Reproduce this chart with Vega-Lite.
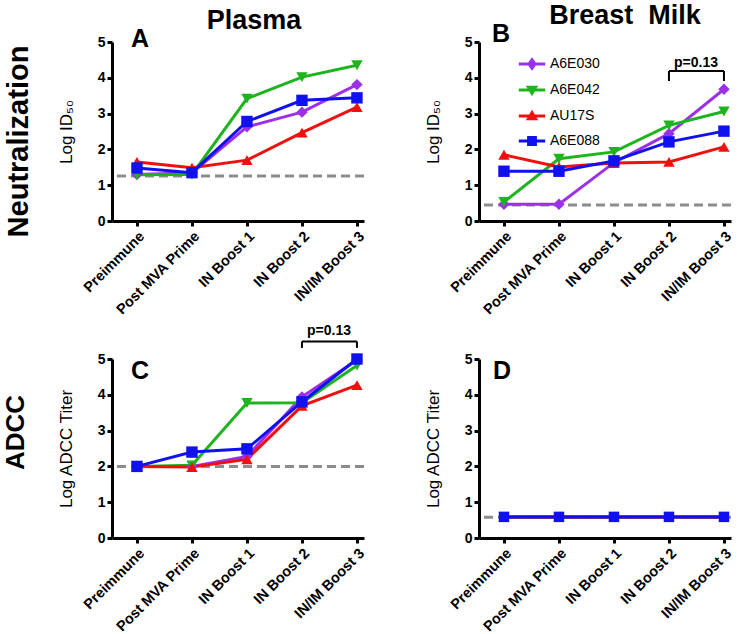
{
  "$schema": "https://vega.github.io/schema/vega-lite/v6.json",
  "background": "white",
  "padding": {"left": 2, "top": 2, "right": 5, "bottom": 5},
  "bounds": "flush",
  "columns": 2,
  "spacing": {"row": 138, "column": 115},
  "config": {
    "font": "Liberation Sans",
    "view": {"stroke": null},
    "axis": {"grid": false, "domainColor": "black", "domainWidth": 3, "tickColor": "black", "tickWidth": 3, "tickSize": 5,
      "labelFont": "Liberation Sans", "labelFontWeight": "bold", "labelFontSize": 14, "labelColor": "black",
      "titleFont": "Liberation Sans", "titleFontWeight": "normal", "titleFontSize": 17, "titleColor": "black"},
    "axisX": {"labelAngle": -45, "labelPadding": 3, "labelFontSize": 14.5},
    "axisY": {"labelPadding": 2, "titlePadding": 22},
    "title": {"font": "Liberation Sans", "fontWeight": "bold", "color": "black"}
  },
  "datasets": {
    "A": [
      {"series": "A6E030", "time": "Preimmune", "value": 1.30},
      {"series": "A6E030", "time": "Post MVA Prime", "value": 1.35},
      {"series": "A6E030", "time": "IN Boost 1", "value": 2.63},
      {"series": "A6E030", "time": "IN Boost 2", "value": 3.04},
      {"series": "A6E030", "time": "IN/IM Boost 3", "value": 3.81},
      {"series": "A6E042", "time": "Preimmune", "value": 1.29},
      {"series": "A6E042", "time": "Post MVA Prime", "value": 1.30},
      {"series": "A6E042", "time": "IN Boost 1", "value": 3.42},
      {"series": "A6E042", "time": "IN Boost 2", "value": 4.02},
      {"series": "A6E042", "time": "IN/IM Boost 3", "value": 4.35},
      {"series": "AU17S", "time": "Preimmune", "value": 1.65},
      {"series": "AU17S", "time": "Post MVA Prime", "value": 1.49},
      {"series": "AU17S", "time": "IN Boost 1", "value": 1.70},
      {"series": "AU17S", "time": "IN Boost 2", "value": 2.47},
      {"series": "AU17S", "time": "IN/IM Boost 3", "value": 3.18},
      {"series": "A6E088", "time": "Preimmune", "value": 1.48},
      {"series": "A6E088", "time": "Post MVA Prime", "value": 1.35},
      {"series": "A6E088", "time": "IN Boost 1", "value": 2.78},
      {"series": "A6E088", "time": "IN Boost 2", "value": 3.37},
      {"series": "A6E088", "time": "IN/IM Boost 3", "value": 3.44}
    ],
    "B": [
      {"series": "A6E030", "time": "Preimmune", "value": 0.47},
      {"series": "A6E030", "time": "Post MVA Prime", "value": 0.47},
      {"series": "A6E030", "time": "IN Boost 1", "value": 1.63},
      {"series": "A6E030", "time": "IN Boost 2", "value": 2.44},
      {"series": "A6E030", "time": "IN/IM Boost 3", "value": 3.68},
      {"series": "A6E042", "time": "Preimmune", "value": 0.53},
      {"series": "A6E042", "time": "Post MVA Prime", "value": 1.74},
      {"series": "A6E042", "time": "IN Boost 1", "value": 1.93},
      {"series": "A6E042", "time": "IN Boost 2", "value": 2.67},
      {"series": "A6E042", "time": "IN/IM Boost 3", "value": 3.06},
      {"series": "AU17S", "time": "Preimmune", "value": 1.85},
      {"series": "AU17S", "time": "Post MVA Prime", "value": 1.51},
      {"series": "AU17S", "time": "IN Boost 1", "value": 1.62},
      {"series": "AU17S", "time": "IN Boost 2", "value": 1.65},
      {"series": "AU17S", "time": "IN/IM Boost 3", "value": 2.07},
      {"series": "A6E088", "time": "Preimmune", "value": 1.39},
      {"series": "A6E088", "time": "Post MVA Prime", "value": 1.39},
      {"series": "A6E088", "time": "IN Boost 1", "value": 1.68},
      {"series": "A6E088", "time": "IN Boost 2", "value": 2.21},
      {"series": "A6E088", "time": "IN/IM Boost 3", "value": 2.51}
    ],
    "C": [
      {"series": "A6E030", "time": "Preimmune", "value": 2.0},
      {"series": "A6E030", "time": "Post MVA Prime", "value": 2.0},
      {"series": "A6E030", "time": "IN Boost 1", "value": 2.28},
      {"series": "A6E030", "time": "IN Boost 2", "value": 3.94},
      {"series": "A6E030", "time": "IN/IM Boost 3", "value": 4.97},
      {"series": "A6E042", "time": "Preimmune", "value": 2.0},
      {"series": "A6E042", "time": "Post MVA Prime", "value": 2.03},
      {"series": "A6E042", "time": "IN Boost 1", "value": 3.77},
      {"series": "A6E042", "time": "IN Boost 2", "value": 3.78},
      {"series": "A6E042", "time": "IN/IM Boost 3", "value": 4.82},
      {"series": "AU17S", "time": "Preimmune", "value": 2.0},
      {"series": "AU17S", "time": "Post MVA Prime", "value": 1.98},
      {"series": "AU17S", "time": "IN Boost 1", "value": 2.20},
      {"series": "AU17S", "time": "IN Boost 2", "value": 3.69},
      {"series": "AU17S", "time": "IN/IM Boost 3", "value": 4.27},
      {"series": "A6E088", "time": "Preimmune", "value": 2.0},
      {"series": "A6E088", "time": "Post MVA Prime", "value": 2.40},
      {"series": "A6E088", "time": "IN Boost 1", "value": 2.49},
      {"series": "A6E088", "time": "IN Boost 2", "value": 3.80},
      {"series": "A6E088", "time": "IN/IM Boost 3", "value": 5.0}
    ],
    "D": [
      {"series": "A6E030", "time": "Preimmune", "value": 0.59},
      {"series": "A6E030", "time": "Post MVA Prime", "value": 0.59},
      {"series": "A6E030", "time": "IN Boost 1", "value": 0.59},
      {"series": "A6E030", "time": "IN Boost 2", "value": 0.59},
      {"series": "A6E030", "time": "IN/IM Boost 3", "value": 0.59},
      {"series": "A6E042", "time": "Preimmune", "value": 0.59},
      {"series": "A6E042", "time": "Post MVA Prime", "value": 0.59},
      {"series": "A6E042", "time": "IN Boost 1", "value": 0.59},
      {"series": "A6E042", "time": "IN Boost 2", "value": 0.59},
      {"series": "A6E042", "time": "IN/IM Boost 3", "value": 0.59},
      {"series": "AU17S", "time": "Preimmune", "value": 0.59},
      {"series": "AU17S", "time": "Post MVA Prime", "value": 0.59},
      {"series": "AU17S", "time": "IN Boost 1", "value": 0.59},
      {"series": "AU17S", "time": "IN Boost 2", "value": 0.59},
      {"series": "AU17S", "time": "IN/IM Boost 3", "value": 0.59},
      {"series": "A6E088", "time": "Preimmune", "value": 0.59},
      {"series": "A6E088", "time": "Post MVA Prime", "value": 0.59},
      {"series": "A6E088", "time": "IN Boost 1", "value": 0.59},
      {"series": "A6E088", "time": "IN Boost 2", "value": 0.59},
      {"series": "A6E088", "time": "IN/IM Boost 3", "value": 0.59}
    ],
    "refA": [{"ref": 1.26}],
    "refB": [{"ref": 0.45}],
    "refC": [{"ref": 2.0}],
    "refD": [{"ref": 0.58}],
    "letterA": [{"letter": "A", "time": "Preimmune", "ly": 4.86}],
    "letterB": [{"letter": "B", "time": "Preimmune", "ly": 5.0}],
    "letterC": [{"letter": "C", "time": "Preimmune", "ly": 4.44}],
    "letterD": [{"letter": "D", "time": "Preimmune", "ly": 4.44}],
    "bracketB": [{"from": "IN Boost 2", "to": "IN/IM Boost 3", "top": 4.19, "bottom": 3.91, "ly": 4.30, "label": "p=0.13"}],
    "bracketC": [{"from": "IN Boost 2", "to": "IN/IM Boost 3", "top": 5.49, "bottom": 5.31, "ly": 5.67, "label": "p=0.13"}]
  },
  "resolve": {"legend": {"color": "independent", "shape": "independent"}},
  "concat": [
    {
      "width": 252, "height": 179,
      "title": {"text": "Plasma", "fontSize": 27, "dx": 16, "offset": -8, "frame": "group"},
      "resolve": {"axis": {"y": "independent"}},
      "layer": [
        {"data": {"name": "refA"}, "mark": {"type": "rule", "strokeDash": [9, 5], "strokeWidth": 3, "color": "#8c8c8c"},
         "encoding": {"y": {"field": "ref", "type": "quantitative", "scale": {"domain": [0, 5], "nice": false},
           "axis": {"orient": "left", "title": "Neutralization", "titleFontSize": 29, "titleFontWeight": "bold", "labels": false, "ticks": false, "domain": false, "minExtent": 0, "maxExtent": 0, "titleX": -85, "titleY": 99, "titleBaseline": "alphabetic", "titleAlign": "center", "titleAngle": 270}}}},
        {"data": {"name": "A"}, "mark": {"type": "line", "strokeWidth": 3},
         "encoding": {
           "x": {"field": "time", "type": "nominal", "sort": null, "title": null, "scale": {"type": "point", "domain": ["Preimmune", "Post MVA Prime", "IN Boost 1", "IN Boost 2", "IN/IM Boost 3"], "padding": 0.291, "align": 0.78}},
           "y": {"field": "value", "type": "quantitative", "scale": {"domain": [0, 5], "nice": false}, "axis": {"orient": "left", "values": [0, 1, 2, 3, 4, 5], "title": "Log ID₅₀", "titlePadding": 22}},
           "stroke": {"field": "series", "type": "nominal", "scale": {"domain": ["A6E030", "A6E042", "AU17S", "A6E088"], "range": ["#9b30e8", "#1db41d", "#f01010", "#1010f0"]}, "legend": null}}},
        {"data": {"name": "A"}, "mark": {"type": "point", "filled": true, "size": 130, "opacity": 1},
         "encoding": {
           "x": {"field": "time", "type": "nominal", "sort": null, "title": null, "scale": {"type": "point", "domain": ["Preimmune", "Post MVA Prime", "IN Boost 1", "IN Boost 2", "IN/IM Boost 3"], "padding": 0.291, "align": 0.78}},
           "y": {"field": "value", "type": "quantitative", "scale": {"domain": [0, 5], "nice": false}, "axis": null},
           "color": {"field": "series", "type": "nominal", "scale": {"domain": ["A6E030", "A6E042", "AU17S", "A6E088"], "range": ["#9b30e8", "#1db41d", "#f01010", "#1010f0"]}, "legend": null},
           "shape": {"field": "series", "type": "nominal", "scale": {"domain": ["A6E030", "A6E042", "AU17S", "A6E088"], "range": ["diamond", "triangle-down", "triangle-up", "square"]}, "legend": null}}},
        {"data": {"name": "letterA"}, "mark": {"type": "text", "fontSize": 25, "fontWeight": "bold", "align": "center", "baseline": "alphabetic", "dx": 3, "color": "black"},
         "encoding": {
           "x": {"field": "time", "type": "nominal", "title": null, "scale": {"type": "point", "domain": ["Preimmune", "Post MVA Prime", "IN Boost 1", "IN Boost 2", "IN/IM Boost 3"], "padding": 0.291, "align": 0.78}},
           "y": {"field": "ly", "type": "quantitative", "scale": {"domain": [0, 5], "nice": false}, "axis": null},
           "text": {"field": "letter"}}}
      ]
    },
    {
      "width": 252, "height": 179,
      "title": {"text": "Breast\u00a0 Milk", "fontSize": 27, "dx": 20, "offset": -8, "frame": "group"},
      "resolve": {"scale": {"shape": "independent", "color": "independent"}},
      "layer": [
        {"data": {"name": "refB"}, "mark": {"type": "rule", "strokeDash": [9, 5], "strokeWidth": 3, "color": "#8c8c8c"},
         "encoding": {"y": {"field": "ref", "type": "quantitative", "scale": {"domain": [0, 5], "nice": false}, "axis": {"values": [0, 1, 2, 3, 4, 5], "title": "Log ID₅₀", "titlePadding": 22}}}},
        {"data": {"name": "B"}, "mark": {"type": "line", "strokeWidth": 3},
         "encoding": {
           "x": {"field": "time", "type": "nominal", "sort": null, "title": null, "scale": {"type": "point", "domain": ["Preimmune", "Post MVA Prime", "IN Boost 1", "IN Boost 2", "IN/IM Boost 3"], "padding": 0.291, "align": 0.78}},
           "y": {"field": "value", "type": "quantitative", "scale": {"domain": [0, 5], "nice": false}, "axis": {"values": [0, 1, 2, 3, 4, 5], "title": "Log ID₅₀", "titlePadding": 22}},
           "stroke": {"field": "series", "type": "nominal", "scale": {"domain": ["A6E030", "A6E042", "AU17S", "A6E088"], "range": ["#9b30e8", "#1db41d", "#f01010", "#1010f0"]}, "legend": null}}},
        {"data": {"name": "B"}, "mark": {"type": "point", "filled": true, "size": 130, "opacity": 1},
         "encoding": {
           "x": {"field": "time", "type": "nominal", "sort": null, "title": null, "scale": {"type": "point", "domain": ["Preimmune", "Post MVA Prime", "IN Boost 1", "IN Boost 2", "IN/IM Boost 3"], "padding": 0.291, "align": 0.78}},
           "y": {"field": "value", "type": "quantitative", "scale": {"domain": [0, 5], "nice": false}, "axis": {"values": [0, 1, 2, 3, 4, 5], "title": "Log ID₅₀", "titlePadding": 22}},
           "color": {"field": "series", "type": "nominal", "scale": {"domain": ["A6E030", "A6E042", "AU17S", "A6E088"], "range": ["#9b30e8", "#1db41d", "#f01010", "#1010f0"]}, "legend": null},
           "shape": {"field": "series", "type": "nominal", "scale": {"domain": ["A6E030", "A6E042", "AU17S", "A6E088"], "range": ["diamond", "triangle-down", "triangle-up", "square"]}, "legend": null}}},
        {"data": {"name": "B"}, "mark": {"type": "point", "filled": false, "opacity": 0, "strokeWidth": 3},
         "encoding": {
           "x": {"field": "time", "type": "nominal", "sort": null, "title": null, "scale": {"type": "point", "domain": ["Preimmune", "Post MVA Prime", "IN Boost 1", "IN Boost 2", "IN/IM Boost 3"], "padding": 0.291, "align": 0.78}},
           "y": {"field": "value", "type": "quantitative", "scale": {"domain": [0, 5], "nice": false}, "axis": {"values": [0, 1, 2, 3, 4, 5], "title": "Log ID₅₀", "titlePadding": 22}},
           "color": {"field": "series", "type": "nominal", "scale": {"domain": ["A6E030", "A6E042", "AU17S", "A6E088"], "range": ["#9b30e8", "#1db41d", "#f01010", "#1010f0"]},
             "legend": {"title": null, "orient": "none", "legendX": 46, "legendY": 15, "labelFont": "Liberation Sans", "labelFontSize": 14, "labelColor": "black", "symbolSize": 121, "symbolStrokeWidth": 3, "symbolOpacity": 1, "labelOffset": 11, "rowPadding": 6}},
           "shape": {"field": "series", "type": "nominal", "scale": {"domain": ["A6E030", "A6E042", "AU17S", "A6E088"], "range": [
               "M-2.4,0L2.4,0M0,-0.75L0.55,0L0,0.75L-0.55,0ZM0,-0.7L0,0.7",
               "M-2.4,0L2.4,0M-0.65,-0.5L0.65,-0.5L0,0.6ZM0,-0.5L0,0.5M-0.4,-0.3L0.4,-0.3",
               "M-2.4,0L2.4,0M-0.65,0.5L0.65,0.5L0,-0.6ZM0,0.5L0,-0.5M-0.4,0.3L0.4,0.3",
               "M-2.4,0L2.4,0M-0.62,-0.62L0.62,-0.62L0.62,0.62L-0.62,0.62ZM0,-0.62L0,0.62M-0.62,-0.3L0.62,-0.3M-0.62,0.3L0.62,0.3"]},
             "legend": {"title": null, "orient": "none", "legendX": 46, "legendY": 15, "labelFont": "Liberation Sans", "labelFontSize": 14, "labelColor": "black", "symbolSize": 121, "symbolStrokeWidth": 3, "symbolOpacity": 1, "labelOffset": 11, "rowPadding": 6}}}},
        {"data": {"name": "letterB"}, "mark": {"type": "text", "fontSize": 25, "fontWeight": "bold", "align": "center", "baseline": "alphabetic", "dx": -3, "color": "black"},
         "encoding": {
           "x": {"field": "time", "type": "nominal", "title": null, "scale": {"type": "point", "domain": ["Preimmune", "Post MVA Prime", "IN Boost 1", "IN Boost 2", "IN/IM Boost 3"], "padding": 0.291, "align": 0.78}},
           "y": {"field": "ly", "type": "quantitative", "scale": {"domain": [0, 5], "nice": false}, "axis": {"values": [0, 1, 2, 3, 4, 5], "title": "Log ID₅₀", "titlePadding": 22}},
           "text": {"field": "letter"}}},
        {"data": {"name": "bracketB"}, "mark": {"type": "rule", "strokeWidth": 2, "color": "black"},
         "encoding": {
           "x": {"field": "from", "type": "nominal", "title": null, "scale": {"type": "point", "domain": ["Preimmune", "Post MVA Prime", "IN Boost 1", "IN Boost 2", "IN/IM Boost 3"], "padding": 0.291, "align": 0.78}},
           "x2": {"field": "to"},
           "y": {"field": "top", "type": "quantitative", "scale": {"domain": [0, 5], "nice": false}, "axis": {"values": [0, 1, 2, 3, 4, 5], "title": "Log ID₅₀", "titlePadding": 22}}}},
        {"data": {"name": "bracketB"}, "mark": {"type": "rule", "strokeWidth": 2, "color": "black"},
         "encoding": {
           "x": {"field": "from", "type": "nominal", "title": null, "scale": {"type": "point", "domain": ["Preimmune", "Post MVA Prime", "IN Boost 1", "IN Boost 2", "IN/IM Boost 3"], "padding": 0.291, "align": 0.78}},
           "y": {"field": "top", "type": "quantitative", "scale": {"domain": [0, 5], "nice": false}, "axis": {"values": [0, 1, 2, 3, 4, 5], "title": "Log ID₅₀", "titlePadding": 22}},
           "y2": {"field": "bottom"}}},
        {"data": {"name": "bracketB"}, "mark": {"type": "rule", "strokeWidth": 2, "color": "black"},
         "encoding": {
           "x": {"field": "to", "type": "nominal", "title": null, "scale": {"type": "point", "domain": ["Preimmune", "Post MVA Prime", "IN Boost 1", "IN Boost 2", "IN/IM Boost 3"], "padding": 0.291, "align": 0.78}},
           "y": {"field": "top", "type": "quantitative", "scale": {"domain": [0, 5], "nice": false}, "axis": {"values": [0, 1, 2, 3, 4, 5], "title": "Log ID₅₀", "titlePadding": 22}},
           "y2": {"field": "bottom"}}},
        {"data": {"name": "bracketB"}, "mark": {"type": "text", "fontSize": 14, "fontWeight": "bold", "align": "center", "baseline": "alphabetic", "dx": 27, "color": "black"},
         "encoding": {
           "x": {"field": "from", "type": "nominal", "title": null, "scale": {"type": "point", "domain": ["Preimmune", "Post MVA Prime", "IN Boost 1", "IN Boost 2", "IN/IM Boost 3"], "padding": 0.291, "align": 0.78}},
           "y": {"field": "ly", "type": "quantitative", "scale": {"domain": [0, 5], "nice": false}, "axis": {"values": [0, 1, 2, 3, 4, 5], "title": "Log ID₅₀", "titlePadding": 22}},
           "text": {"field": "label"}}}
      ]
    },
    {
      "width": 252, "height": 179,
      "resolve": {"axis": {"y": "independent"}},
      "layer": [
        {"data": {"name": "refC"}, "mark": {"type": "rule", "strokeDash": [9, 5], "strokeWidth": 3, "color": "#8c8c8c"},
         "encoding": {"y": {"field": "ref", "type": "quantitative", "scale": {"domain": [0, 5], "nice": false},
           "axis": {"orient": "left", "title": "ADCC", "titleFontSize": 26, "titleFontWeight": "bold", "labels": false, "ticks": false, "domain": false, "minExtent": 0, "maxExtent": 0, "titleX": -89, "titleY": 73, "titleBaseline": "alphabetic", "titleAlign": "center", "titleAngle": 270}}}},
        {"data": {"name": "C"}, "mark": {"type": "line", "strokeWidth": 3},
         "encoding": {
           "x": {"field": "time", "type": "nominal", "sort": null, "title": null, "scale": {"type": "point", "domain": ["Preimmune", "Post MVA Prime", "IN Boost 1", "IN Boost 2", "IN/IM Boost 3"], "padding": 0.291, "align": 0.78}},
           "y": {"field": "value", "type": "quantitative", "scale": {"domain": [0, 5], "nice": false}, "axis": {"orient": "left", "values": [0, 1, 2, 3, 4, 5], "title": "Log ADCC Titer", "titlePadding": 22}},
           "stroke": {"field": "series", "type": "nominal", "scale": {"domain": ["A6E030", "A6E042", "AU17S", "A6E088"], "range": ["#9b30e8", "#1db41d", "#f01010", "#1010f0"]}, "legend": null}}},
        {"data": {"name": "C"}, "mark": {"type": "point", "filled": true, "size": 130, "opacity": 1},
         "encoding": {
           "x": {"field": "time", "type": "nominal", "sort": null, "title": null, "scale": {"type": "point", "domain": ["Preimmune", "Post MVA Prime", "IN Boost 1", "IN Boost 2", "IN/IM Boost 3"], "padding": 0.291, "align": 0.78}},
           "y": {"field": "value", "type": "quantitative", "scale": {"domain": [0, 5], "nice": false}, "axis": null},
           "color": {"field": "series", "type": "nominal", "scale": {"domain": ["A6E030", "A6E042", "AU17S", "A6E088"], "range": ["#9b30e8", "#1db41d", "#f01010", "#1010f0"]}, "legend": null},
           "shape": {"field": "series", "type": "nominal", "scale": {"domain": ["A6E030", "A6E042", "AU17S", "A6E088"], "range": ["diamond", "triangle-down", "triangle-up", "square"]}, "legend": null}}},
        {"data": {"name": "letterC"}, "mark": {"type": "text", "fontSize": 25, "fontWeight": "bold", "align": "center", "baseline": "alphabetic", "dx": 3, "color": "black"},
         "encoding": {
           "x": {"field": "time", "type": "nominal", "title": null, "scale": {"type": "point", "domain": ["Preimmune", "Post MVA Prime", "IN Boost 1", "IN Boost 2", "IN/IM Boost 3"], "padding": 0.291, "align": 0.78}},
           "y": {"field": "ly", "type": "quantitative", "scale": {"domain": [0, 5], "nice": false}, "axis": null},
           "text": {"field": "letter"}}},
        {"data": {"name": "bracketC"}, "mark": {"type": "rule", "strokeWidth": 2, "color": "black"},
         "encoding": {
           "x": {"field": "from", "type": "nominal", "title": null, "scale": {"type": "point", "domain": ["Preimmune", "Post MVA Prime", "IN Boost 1", "IN Boost 2", "IN/IM Boost 3"], "padding": 0.291, "align": 0.78}},
           "x2": {"field": "to"},
           "y": {"field": "top", "type": "quantitative", "scale": {"domain": [0, 5], "nice": false}, "axis": null}}},
        {"data": {"name": "bracketC"}, "mark": {"type": "rule", "strokeWidth": 2, "color": "black"},
         "encoding": {
           "x": {"field": "from", "type": "nominal", "title": null, "scale": {"type": "point", "domain": ["Preimmune", "Post MVA Prime", "IN Boost 1", "IN Boost 2", "IN/IM Boost 3"], "padding": 0.291, "align": 0.78}},
           "y": {"field": "top", "type": "quantitative", "scale": {"domain": [0, 5], "nice": false}, "axis": null},
           "y2": {"field": "bottom"}}},
        {"data": {"name": "bracketC"}, "mark": {"type": "rule", "strokeWidth": 2, "color": "black"},
         "encoding": {
           "x": {"field": "to", "type": "nominal", "title": null, "scale": {"type": "point", "domain": ["Preimmune", "Post MVA Prime", "IN Boost 1", "IN Boost 2", "IN/IM Boost 3"], "padding": 0.291, "align": 0.78}},
           "y": {"field": "top", "type": "quantitative", "scale": {"domain": [0, 5], "nice": false}, "axis": null},
           "y2": {"field": "bottom"}}},
        {"data": {"name": "bracketC"}, "mark": {"type": "text", "fontSize": 14, "fontWeight": "bold", "align": "center", "baseline": "alphabetic", "dx": 27, "color": "black"},
         "encoding": {
           "x": {"field": "from", "type": "nominal", "title": null, "scale": {"type": "point", "domain": ["Preimmune", "Post MVA Prime", "IN Boost 1", "IN Boost 2", "IN/IM Boost 3"], "padding": 0.291, "align": 0.78}},
           "y": {"field": "ly", "type": "quantitative", "scale": {"domain": [0, 5], "nice": false}, "axis": null},
           "text": {"field": "label"}}}
      ]
    },
    {
      "width": 252, "height": 179,
      "layer": [
        {"data": {"name": "refD"}, "mark": {"type": "rule", "strokeDash": [9, 5], "strokeWidth": 3, "color": "#8c8c8c"},
         "encoding": {"y": {"field": "ref", "type": "quantitative", "scale": {"domain": [0, 5], "nice": false}, "axis": {"values": [0, 1, 2, 3, 4, 5], "title": "Log ADCC Titer", "titlePadding": 22}}}},
        {"data": {"name": "D"}, "mark": {"type": "line", "strokeWidth": 3},
         "encoding": {
           "x": {"field": "time", "type": "nominal", "sort": null, "title": null, "scale": {"type": "point", "domain": ["Preimmune", "Post MVA Prime", "IN Boost 1", "IN Boost 2", "IN/IM Boost 3"], "padding": 0.291, "align": 0.78}},
           "y": {"field": "value", "type": "quantitative", "scale": {"domain": [0, 5], "nice": false}, "axis": {"values": [0, 1, 2, 3, 4, 5], "title": "Log ADCC Titer", "titlePadding": 22}},
           "stroke": {"field": "series", "type": "nominal", "scale": {"domain": ["A6E030", "A6E042", "AU17S", "A6E088"], "range": ["#9b30e8", "#1db41d", "#f01010", "#1010f0"]}, "legend": null}}},
        {"data": {"name": "D"}, "mark": {"type": "point", "filled": true, "size": 110, "opacity": 1},
         "encoding": {
           "x": {"field": "time", "type": "nominal", "sort": null, "title": null, "scale": {"type": "point", "domain": ["Preimmune", "Post MVA Prime", "IN Boost 1", "IN Boost 2", "IN/IM Boost 3"], "padding": 0.291, "align": 0.78}},
           "y": {"field": "value", "type": "quantitative", "scale": {"domain": [0, 5], "nice": false}, "axis": {"values": [0, 1, 2, 3, 4, 5], "title": "Log ADCC Titer", "titlePadding": 22}},
           "color": {"field": "series", "type": "nominal", "scale": {"domain": ["A6E030", "A6E042", "AU17S", "A6E088"], "range": ["#9b30e8", "#1db41d", "#f01010", "#1010f0"]}, "legend": null},
           "shape": {"field": "series", "type": "nominal", "scale": {"domain": ["A6E030", "A6E042", "AU17S", "A6E088"], "range": ["diamond", "triangle-down", "triangle-up", "square"]}, "legend": null}}},
        {"data": {"name": "letterD"}, "mark": {"type": "text", "fontSize": 25, "fontWeight": "bold", "align": "center", "baseline": "alphabetic", "dx": -2, "color": "black"},
         "encoding": {
           "x": {"field": "time", "type": "nominal", "title": null, "scale": {"type": "point", "domain": ["Preimmune", "Post MVA Prime", "IN Boost 1", "IN Boost 2", "IN/IM Boost 3"], "padding": 0.291, "align": 0.78}},
           "y": {"field": "ly", "type": "quantitative", "scale": {"domain": [0, 5], "nice": false}, "axis": {"values": [0, 1, 2, 3, 4, 5], "title": "Log ADCC Titer", "titlePadding": 22}},
           "text": {"field": "letter"}}}
      ]
    }
  ]
}
